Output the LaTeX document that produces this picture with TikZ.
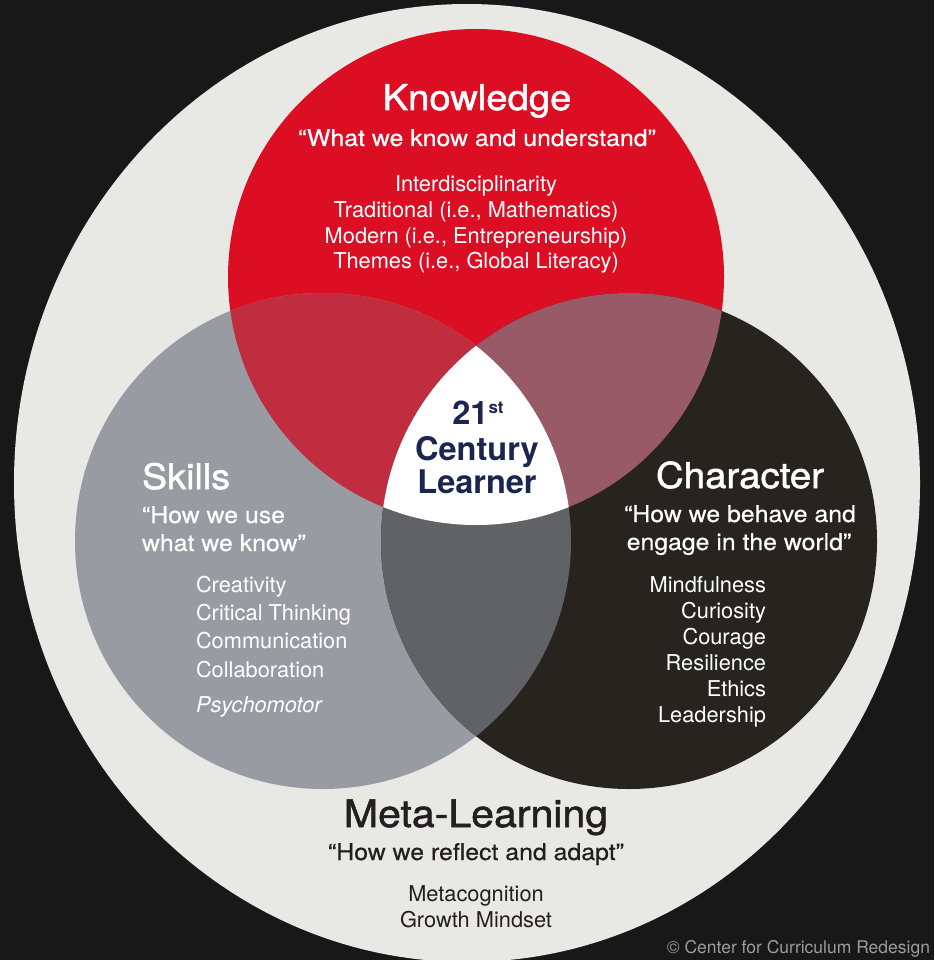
\documentclass[tikz,border=0pt]{standalone}
\usepackage{fontspec}
\setmainfont{TeX Gyre Heros}
\newfontfamily\medfont[FakeBold=0.4,FakeStretch=1.08]{TeX Gyre Heros}
\newfontfamily\headfont[FakeBold=1.5,FakeStretch=1.08]{TeX Gyre Heros}
\definecolor{bgc}{HTML}{181818}
\definecolor{outerc}{HTML}{E8E9E4}
\definecolor{redc}{HTML}{DC0E24}
\definecolor{grayc}{HTML}{989CA2}
\definecolor{blackc}{HTML}{27241F}
\definecolor{rgc}{HTML}{BF2D3F}
\definecolor{rbc}{HTML}{985A66}
\definecolor{gbc}{HTML}{616265}
\definecolor{navyc}{HTML}{1B2550}
\definecolor{darkc}{HTML}{231F20}
\definecolor{copyc}{HTML}{9C9C9C}
\tikzset{
  txt/.style={inner sep=0pt, outer sep=0pt, text=white},
  head/.style={txt, font=\headfont\fontsize{35.4}{35.4}\selectfont},
  quot/.style={txt, font=\medfont\fontsize{23}{23}\selectfont},
  item/.style={txt, font=\fontsize{21.8}{21.8}\selectfont},
  ctr/.style={txt, text=navyc, font=\fontsize{32.5}{32.5}\selectfont\bfseries},
}
\begin{document}
\begin{tikzpicture}[x=1pt,y=-1pt]
\useasboundingbox (0,0) rectangle (934,960);
\fill[bgc] (0,0) rectangle (934,960);
\fill[outerc] (467,483) ellipse [x radius=453, y radius=479];
% circles
\def\rk{(476,277) circle [radius=248]}
\def\sk{(323,541) circle [radius=248]}
\def\ch{(629,541) circle [radius=248]}
\fill[redc] \rk;
\fill[grayc] \sk;
\fill[blackc] \ch;
\begin{scope}\clip \rk; \fill[rgc] \sk; \end{scope}
\begin{scope}\clip \rk; \fill[rbc] \ch; \end{scope}
\begin{scope}\clip \sk; \fill[gbc] \ch; \end{scope}
\begin{scope}\clip \rk; \clip \sk; \fill[white] \ch; \end{scope}
% Knowledge
\node[head, anchor=base] (kh) at (477,110) {Knowledge};
\node[quot, anchor=base] (kq) at (477,146) {“What we know and understand”};
\node[item, anchor=base] (k1) at (476,191) {Interdisciplinarity};
\node[item, anchor=base] (k2) at (476,217) {Traditional (i.e., Mathematics)};
\node[item, anchor=base] (k3) at (476,243) {Modern (i.e., Entrepreneurship)};
\node[item, anchor=base] (k4) at (476,268) {Themes (i.e., Global Literacy)};
% Center
\node[ctr, anchor=base] (c1) at (478,424) {21\raisebox{11pt}{\fontsize{17}{17}\selectfont st}};
\node[ctr, anchor=base] (c2) at (477,460) {Century};
\node[ctr, anchor=base] (c3) at (477,493) {Learner};
% Skills
\node[head, anchor=base west, font=\headfont\fontsize{35}{35}\selectfont] (sh) at (142,489) {Skills};
\node[quot, anchor=base west] (sq1) at (142,523) {“How we use};
\node[quot, anchor=base west] (sq2) at (142,551) {what we know”};
\node[item, anchor=base west] (s1) at (196,592) {Creativity};
\node[item, anchor=base west] (s2) at (196,620) {Critical Thinking};
\node[item, anchor=base west] (s3) at (196,648) {Communication};
\node[item, anchor=base west] (s4) at (196,677) {Collaboration};
\node[item, anchor=base west, font=\fontsize{21.8}{21.8}\selectfont\itshape] (s5) at (196,712) {Psychomotor};
% Character
\node[head, anchor=base, font=\headfont\fontsize{35.6}{35.6}\selectfont] (chh) at (740,488) {Character};
\node[quot, anchor=base] (chq1) at (740,522) {“How we behave and};
\node[quot, anchor=base] (chq2) at (739,550) {engage in the world”};
\node[item, anchor=base east] (ch1) at (766,592) {Mindfulness};
\node[item, anchor=base east] (ch2) at (766,618) {Curiosity};
\node[item, anchor=base east] (ch3) at (766,644) {Courage};
\node[item, anchor=base east] (ch4) at (766,670) {Resilience};
\node[item, anchor=base east] (ch5) at (766,696) {Ethics};
\node[item, anchor=base east] (ch6) at (766,722) {Leadership};
% Meta-Learning
\node[head, text=darkc, anchor=base, font=\headfont\fontsize{38}{38}\selectfont] (mh) at (476,827) {Meta-Learning};
\node[quot, text=darkc, anchor=base] (mq) at (476,860) {“How we reflect and adapt”};
\node[item, text=darkc, anchor=base] (m1) at (476,901) {Metacognition};
\node[item, text=darkc, anchor=base] (m2) at (476,927) {Growth Mindset};
% copyright
\node[txt, text=copyc, anchor=base east, font=\fontsize{17.5}{17.5}\selectfont] (cp) at (930,953) {© Center for Curriculum Redesign};
\end{tikzpicture}
\end{document}
